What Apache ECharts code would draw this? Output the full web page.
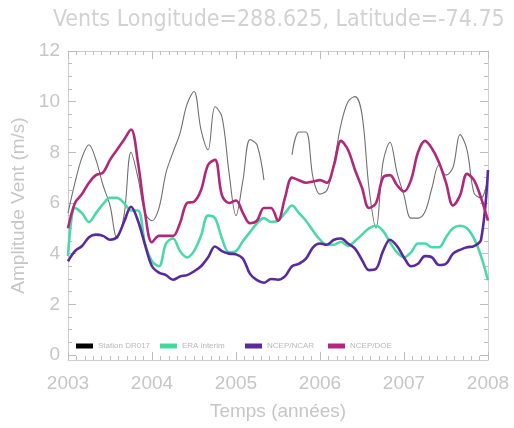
<!DOCTYPE html>
<html><head><meta charset="utf-8">
<script src="https://cdn.jsdelivr.net/npm/echarts@6/dist/echarts.min.js"></script>
<style>html,body{margin:0;padding:0;background:#fff}#c{width:514px;height:428px}</style>
</head><body><div id="c"></div>
<script>
// monthly time axis (decimal years)
const times = [2003.000,2003.083,2003.167,2003.250,2003.333,2003.417,2003.500,2003.583,2003.667,2003.750,2003.833,2003.917,
2004.000,2004.083,2004.167,2004.250,2004.333,2004.417,2004.500,2004.583,2004.667,2004.750,2004.833,2004.917,
2005.000,2005.083,2005.167,2005.250,2005.333,2005.417,2005.500,2005.583,2005.667,2005.750,2005.833,2005.917,
2006.000,2006.083,2006.167,2006.250,2006.333,2006.417,2006.500,2006.583,2006.667,2006.750,2006.833,2006.917,
2007.000,2007.083,2007.167,2007.250,2007.333,2007.417,2007.500,2007.583,2007.667,2007.750,2007.833,2007.917,
2008.000];
const stationDR017 = [5.6,6.8,7.8,8.3,7.7,6.7,5.9,4.6,5.5,8.0,7.0,5.6,
5.3,5.8,7.2,8.0,8.75,9.9,10.4,8.9,8.1,9.8,9.4,7.2,
5.5,6.9,8.5,8.3,6.9,null,null,null,7.9,8.8,8.8,7.0,
6.35,6.5,7.6,9.1,10.0,10.2,9.5,6.6,5.0,7.6,8.4,7.2,
6.3,5.4,5.4,5.65,6.6,7.5,7.1,7.4,8.7,8.1,6.4,6.2,
7.0];
const eraInterim = [3.9,5.8,5.6,5.25,5.6,5.95,6.2,6.2,6.0,5.7,5.7,4.4,
3.7,3.5,4.4,4.6,4.1,3.85,4.1,4.7,5.5,5.4,4.6,4.05,
4.1,4.5,4.85,5.2,5.4,5.25,5.3,5.6,5.9,5.6,5.3,4.9,
4.55,4.35,4.35,4.47,4.3,4.5,4.75,5.0,5.1,4.9,4.45,4.05,
3.85,4.05,4.4,4.4,4.25,4.25,4.65,5.0,5.1,5.0,4.6,3.9,
2.95];
const ncepNcar = [3.7,4.1,4.3,4.65,4.75,4.7,4.55,4.65,5.25,5.85,5.3,4.35,
3.5,3.25,3.15,2.97,3.1,3.15,3.3,3.5,3.85,4.28,4.1,4.0,
3.97,3.8,3.2,2.95,2.85,3.0,2.97,3.1,3.5,3.6,3.8,4.25,
4.4,4.35,4.55,4.6,4.4,4.2,3.75,3.35,3.4,4.1,4.55,4.3,
3.85,3.5,3.6,3.9,3.85,3.55,3.6,4.0,4.15,4.25,4.3,4.55,
7.3];
const ncepDoe = [5.0,6.0,6.35,6.8,7.1,7.2,7.7,8.1,8.5,8.9,7.6,5.6,
4.45,4.7,4.7,4.7,5.2,6.0,6.05,6.5,7.5,7.7,6.3,6.0,
6.1,5.6,5.2,5.3,5.8,5.8,5.3,6.2,7.0,6.9,6.8,6.85,
6.9,6.8,7.5,8.45,8.1,7.3,6.6,5.8,6.0,7.0,7.1,6.7,
6.45,6.9,8.0,8.45,8.15,7.6,6.8,5.9,6.3,7.15,6.9,6.2,
5.3];
const seriesNames = ['Station DR017','ERA interim','NCEP/NCAR','NCEP/DOE'];
const yMajor = [0,2,4,6,8,10,12];
const yMinor = [0,0.5,1,1.5,2,2.5,3,3.5,4,4.5,5,5.5,6,6.5,7,7.5,8,8.5,9,9.5,10,10.5,11,11.5,12];

const axisGrey = '#cfcfcf';
const tickGrey = '#bdbdbd';
const textGrey = '#c6c6c6';
const FONT = 'Liberation Sans, DejaVu Sans, sans-serif';

function pairs(vals){ return times.map((t,i)=>[t, vals[i]]); }

function yAx(pos, ticks, len, withLabel, withLine){
  const a = {type:'value', min:-0.2, max:12, position:pos,
    axisLine:{show:withLine, onZero:false, lineStyle:{color:axisGrey, width:1}},
    axisTick:{show:true, inside:true, length:len, customValues:ticks, lineStyle:{color:tickGrey}},
    axisLabel:{show:withLabel, customValues:yMajor, fontSize:19, color:textGrey, margin:8, fontFamily:FONT},
    splitLine:{show:false}};
  if (withLabel) {
    a.name = 'Amplitude Vent (m/s)'; a.nameLocation='middle'; a.nameGap=33;
    a.nameTextStyle = {fontSize:19, color:textGrey, fontFamily:FONT};
  }
  return a;
}
function xAx(pos, withLabel){
  const a = {type:'value', min:2003, max:2008, interval:1, position:pos,
    axisLine:{show:true, onZero:false, lineStyle:{color:axisGrey}},
    axisTick:{show:true, inside:true, length:8, lineStyle:{color:tickGrey}},
    minorTick:{show:true, splitNumber:10, length:4, lineStyle:{color:tickGrey}},
    axisLabel:{show:withLabel, fontSize:19, color:textGrey, margin:14, fontFamily:FONT,
      formatter:function(v){ return String(v); }},
    splitLine:{show:false}};
  if (withLabel) {
    a.name='Temps (années)'; a.nameLocation='middle'; a.nameGap=42;
    a.nameTextStyle={fontSize:19, color:textGrey, fontFamily:FONT};
  }
  return a;
}

const colors = ['#000000','#3ddc9e','#5a2a9c','#b0287a'];
const lineColors = ['#707070','#4cd8a8','#5a2a9c','#b0287a'];
const widths = [1.1,2.6,2.6,2.6];
const vals = [stationDR017, eraInterim, ncepNcar, ncepDoe];

const legendLeft = [76,160,245,328];
const chart = echarts.init(document.getElementById('c'), null, {renderer:'canvas'});
chart.setOption({
  animation:false,
  backgroundColor:'#fff',
  title:{text:'Vents Longitude=288.625, Latitude=-74.75', left:48, top:4,
    textStyle:{fontSize:23, fontWeight:'normal', color:'#d2d2d2', fontFamily:'Liberation Sans Narrow, DejaVu Sans Condensed, Liberation Sans, sans-serif'}},
  grid:{left:68, right:26, top:51, bottom:68, containLabel:false},
  xAxis:[xAx('bottom', true), xAx('top', false)],
  yAxis:[yAx('left', yMajor, 8, true, true), yAx('left', yMinor, 4, false, false),
         yAx('right', yMajor, 8, false, true), yAx('right', yMinor, 4, false, false)],
  legend: seriesNames.map((n,i)=>({
    data:[{name:n, itemStyle:{color:colors[i]}}], left:legendLeft[i], top:342, padding:0,
    icon:'rect', itemWidth:17, itemHeight:5, itemGap:4,
    textStyle:{fontSize:8, color:'#b8b8b8', fontFamily:FONT}, selectedMode:false
  })),
  series: seriesNames.map((n,i)=>({
    name:n, type:'line', xAxisIndex:0, yAxisIndex:0, data:pairs(vals[i]),
    smooth:0.35, showSymbol:false, connectNulls:false,
    itemStyle:{color:colors[i]}, lineStyle:{color:lineColors[i], width:widths[i]}
  }))
});
</script></body></html>
